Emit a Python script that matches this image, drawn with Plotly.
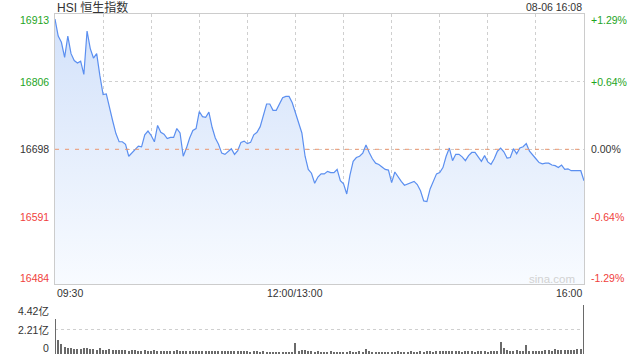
import plotly.graph_objects as go

# ---------------- data ----------------
prev_close = 16698
y_ticks_left = ["16913", "16806", "16698", "16591", "16484"]
y_ticks_right = ["+1.29%", "+0.64%", "0.00%", "-0.64%", "-1.29%"]
y_tick_values = [16913, 16806, 16698, 16591, 16484]
x_tick_labels = ["09:30", "12:00/13:00", "16:00"]
x_tick_minutes = [0, 150, 330]
vol_tick_labels = ["4.42亿", "2.21亿", "0"]
vol_tick_values = [4.42, 2.21, 0]

# index price, one reading every 2 trading minutes (09:30 -> 16:00, lunch merged)
price_morning = [
    16905, 16878, 16868, 16844, 16878, 16850, 16839, 16835, 16838, 16817,
    16886, 16858, 16843, 16850, 16815, 16785, 16786, 16763, 16743, 16723,
    16710, 16710, 16706, 16687, 16692, 16697, 16703, 16702, 16721, 16727,
    16720, 16710, 16736, 16725, 16722, 16715, 16717, 16717, 16731, 16724,
    16687, 16700, 16716, 16728, 16731, 16758, 16750, 16749, 16757, 16733,
    16716, 16706, 16692, 16690, 16694, 16699, 16690, 16696, 16709, 16711,
    16707, 16709, 16721, 16725, 16734, 16752, 16770, 16770, 16760, 16760,
    16770, 16780, 16782, 16782, 16772, 16755,
]
price_afternoon = [
    16737, 16724, 16687, 16666, 16660, 16644, 16654, 16659, 16659, 16663,
    16661, 16661, 16666, 16648, 16643, 16627, 16657, 16679, 16685, 16687,
    16692, 16705, 16693, 16683, 16676, 16674, 16670, 16666, 16665, 16645,
    16662, 16654, 16647, 16641, 16643, 16646, 16647, 16642, 16632, 16616,
    16615, 16635, 16647, 16659, 16661, 16669, 16687, 16700, 16680, 16690,
    16690, 16686, 16680, 16688, 16693, 16693, 16686, 16679, 16688, 16678,
    16674, 16683, 16695, 16700, 16694, 16684, 16685, 16699, 16691, 16700,
    16702, 16707, 16695, 16688, 16683, 16677, 16675, 16676, 16676, 16673,
    16672, 16669, 16673, 16666, 16667, 16664, 16664, 16665, 16664, 16648,
]
# volume (亿), same sampling
vol_morning = [
    3.2, 1.25, 0.9, 0.65, 0.55, 0.5, 0.48, 0.45, 0.45, 0.5,
    0.55, 0.45, 0.42, 0.4, 0.55, 0.4, 0.38, 0.42, 0.36, 0.4,
    0.35, 0.33, 0.36, 0.3, 0.32, 0.35, 0.3, 0.28, 0.33, 0.3,
    0.3, 0.32, 0.28, 0.3, 0.27, 0.3, 0.26, 0.28, 0.35, 0.27,
    0.25, 0.28, 0.3, 0.26, 0.25, 0.27, 0.3, 0.28, 0.25, 0.24,
    0.27, 0.25, 0.28, 0.24, 0.26, 0.25, 0.23, 0.26, 0.24, 0.25,
    0.23, 0.22, 0.25, 0.24, 0.22, 0.23, 0.2, 0.22, 0.2, 0.22,
    0.2, 0.18, 0.2, 0.22, 0.2, 0.95,
]
vol_afternoon = [
    0.3, 0.35, 0.32, 0.28, 0.25, 0.22, 0.24, 0.2, 0.22, 0.2,
    0.24, 0.2, 0.22, 0.2, 0.18, 0.22, 0.25, 0.2, 0.22, 0.24,
    0.2, 0.45, 0.25, 0.22, 0.2, 0.22, 0.2, 0.18, 0.2, 0.22,
    0.2, 0.24, 0.22, 0.2, 0.22, 0.25, 0.22, 0.2, 0.24, 0.22,
    0.26, 0.24, 0.22, 0.25, 0.28, 0.24, 0.3, 0.26, 0.24, 0.3,
    0.25, 0.22, 0.28, 0.24, 0.25, 0.22, 0.3, 0.26, 0.24, 0.22,
    0.25, 0.3, 0.28, 1.05, 0.5, 0.35, 0.3, 0.28, 0.32, 0.3,
    0.28, 0.8, 0.3, 0.28, 0.25, 0.3, 0.28, 0.32, 0.35, 0.3,
    0.45, 0.32, 0.35, 0.38, 0.35, 0.4, 0.38, 0.42, 0.45, 4.42,
]

prices = price_morning + price_afternoon
volumes = vol_morning + vol_afternoon
minutes = [2 * i for i in range(len(prices))]  # trading-minute index

# ---------------- figure ----------------
W, H = 640, 360
L, R, T, B = 55, 584, 14, 284          # price panel (px)
VT, VB = 305, 354                       # volume panel (px)
FONT = "Liberation Sans, Arial, Noto Sans CJK SC, sans-serif"
GREEN, RED, DARK = "#1ea51e", "#f0413c", "#333333"
GRID = "#cfcfcf"

def px(x):
    return x / W

def py(y):
    return 1 - y / H

fig = go.Figure()

# baseline for the gradient fill
fig.add_trace(go.Scatter(x=[minutes[0], minutes[-1]], y=[16484, 16484], mode="lines",
                         line=dict(width=0, color="rgba(0,0,0,0)"), hoverinfo="skip",
                         showlegend=False, xaxis="x", yaxis="y"))
fig.add_trace(go.Scatter(
    x=minutes, y=prices, mode="lines",
    line=dict(color="#5b8ff0", width=1.2),
    fill="tonexty",
    fillgradient=dict(type="vertical", start=16484, stop=16913,
                      colorscale=[[0, "rgba(248,251,255,1)"], [1, "rgba(210,225,250,1)"]]),
    showlegend=False, xaxis="x", yaxis="y"))

fig.add_trace(go.Bar(x=minutes, y=volumes, marker=dict(color="#6a6a6a", line=dict(width=0)),
                     width=0.75, showlegend=False, xaxis="x2", yaxis="y2"))

axis_common = dict(range=[0, 330], zeroline=False, ticks="", showticklabels=False)
fig.update_layout(
    width=W, height=H, margin=dict(l=0, r=0, t=0, b=0),
    paper_bgcolor="white", plot_bgcolor="white",
    font=dict(family=FONT, size=10.5, color=DARK),
    bargap=0,
    xaxis=dict(domain=[px(L), px(R)], anchor="y", tickmode="linear", tick0=0, dtick=30,
               showgrid=True, gridcolor=GRID, griddash="dot", gridwidth=1,
               showline=True, mirror=True, linecolor="#cccccc", linewidth=1, **axis_common),
    yaxis=dict(domain=[py(B), py(T)], range=[16484, 16913], anchor="x",
               tickmode="array", tickvals=[16591, 16698, 16806],
               showgrid=True, gridcolor=GRID, griddash="dot", gridwidth=1,
               showline=True, mirror=True, linecolor="#cccccc", linewidth=1,
               zeroline=False, ticks="", showticklabels=False),
    xaxis2=dict(domain=[px(L), px(R)], anchor="y2", showgrid=False, showline=False, **axis_common),
    yaxis2=dict(domain=[py(VB), py(VT)], range=[0, 4.42], anchor="x2",
                tickmode="array", tickvals=[2.21, 4.42],
                showgrid=True, gridcolor=GRID, griddash="dot", gridwidth=1,
                showline=False, zeroline=False, ticks="", showticklabels=False),
)

# previous-close dashed line
fig.add_shape(type="line", xref="x", yref="y", x0=0, x1=330, y0=prev_close, y1=prev_close,
              line=dict(color="rgb(236,150,110)", width=1, dash="4px,6px"), layer="above")

ann = []
label_y_px = [20, 82, 149, 217, 278]
left_colors = [GREEN, GREEN, DARK, RED, RED]
for txt, ypx, col in zip(y_ticks_left, label_y_px, left_colors):
    ann.append(dict(text=txt, x=px(51), y=py(ypx), xanchor="right", yanchor="middle",
                    font=dict(color=col)))
for txt, ypx, col in zip(y_ticks_right, label_y_px, left_colors):
    ann.append(dict(text=txt, x=px(589), y=py(ypx), xanchor="left", yanchor="middle",
                    font=dict(color=col)))

x_anchors = ["left", "center", "right"]
for txt, m, xa in zip(x_tick_labels, x_tick_minutes, x_anchors):
    ann.append(dict(text=txt, x=px(L + (R - L) * m / 330), y=py(293), xanchor=xa,
                    yanchor="middle", font=dict(color=DARK)))

for txt, ypx in zip(vol_tick_labels, [311, 330, 348]):
    ann.append(dict(text=txt, x=px(51), y=py(ypx), xanchor="right", yanchor="middle",
                    font=dict(color=DARK)))

ann.append(dict(text="HSI 恒生指数", x=px(L), y=py(7), xanchor="left", yanchor="middle",
                font=dict(size=12, color=DARK)))
ann.append(dict(text="08-06 16:08", x=px(R), y=py(7), xanchor="right", yanchor="middle",
                font=dict(color=DARK)))
ann.append(dict(text="sina.com", x=px(552), y=py(279), xanchor="center", yanchor="middle",
                font=dict(size=11.5, color="#d2d2d2")))

for a in ann:
    a.update(xref="paper", yref="paper", showarrow=False)
fig.update_layout(annotations=ann)

fig.write_html("out.html", config={"displayModeBar": False},
               post_script="document.body.style.margin='0';document.body.style.overflow='hidden';")
